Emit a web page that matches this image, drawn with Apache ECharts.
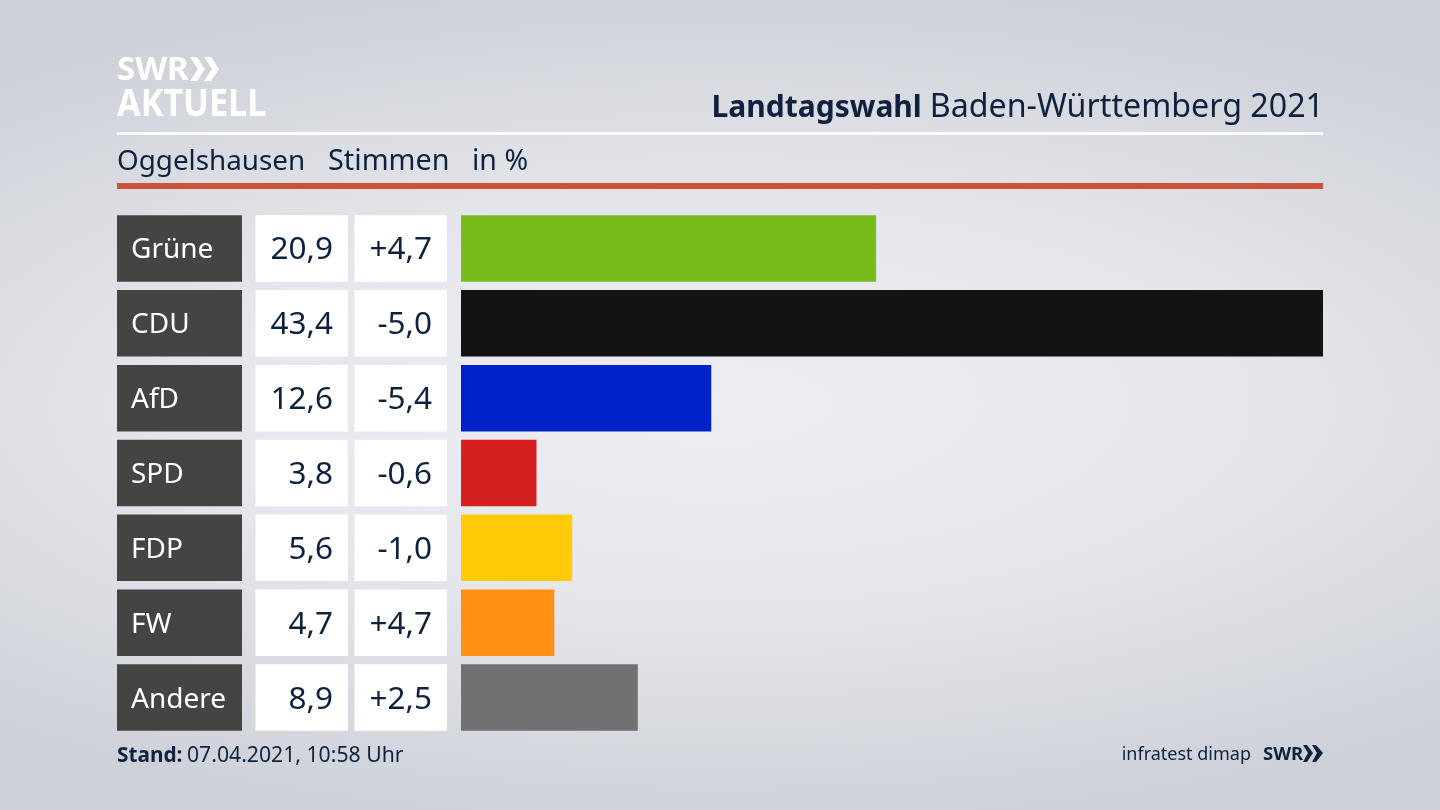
<!DOCTYPE html>
<html>
<head>
<meta charset="utf-8">
<style>
  html, body { margin: 0; padding: 0; width: 100%; height: 100%; overflow: hidden; }
  body { background: radial-gradient(ellipse 1150px 430px at 50% 50%, #eceef3 0%, #e5e7ec 45%, #cdd0d7 100%); }
  #chart { width: 1440px; height: 810px; }
</style>
<script src="https://cdn.jsdelivr.net/npm/echarts@6/dist/echarts.min.js"></script>
</head>
<body>
<div id="chart"></div>
<script>
const parties = ['Grüne', 'CDU', 'AfD', 'SPD', 'FDP', 'FW', 'Andere'];
const shares = [20.9, 43.4, 12.6, 3.8, 5.6, 4.7, 8.9];
const changes = [4.7, -5.0, -5.4, -0.6, -1.0, 4.7, 2.5];
const colors = ['#78bc1b', '#131313', '#0022c8', '#d61f1f', '#ffcb08', '#ff9014', '#707172'];

const FONT = '"Noto Sans", sans-serif';
const INK = '#0e2240';
const GRID_TOP = 211;
const GRID_HEIGHT = 524;
const ROW_H = 66.5;

const fmt = v => v.toFixed(1).replace('.', ',');
const fmtChange = v => (v > 0 ? '+' : '') + fmt(v);

// one grid per column, the first three are just filled cells with a label
const columns = [
  { left: 117, width: 125 },
  { left: 255.5, width: 92.5 },
  { left: 354.5, width: 92.5 },
  { left: 461, width: 862 },
];

function cellSeries(idx, color, texts, labelColor, size, pos, dist) {
  return {
    type: 'bar',
    xAxisIndex: idx,
    yAxisIndex: idx,
    barWidth: ROW_H,
    silent: true,
    data: texts.map(() => 1),
    itemStyle: { color: color },
    label: {
      show: true,
      position: pos,
      distance: dist,
      offset: [0, 2],
      color: labelColor,
      fontFamily: FONT,
      fontSize: size,
      formatter: p => texts[p.dataIndex],
    },
  };
}

const myChart = echarts.init(document.getElementById('chart'));

myChart.setOption({
  animation: false,
  title: {
    text: '{b|Landtagswahl} {r|Baden-Württemberg 2021}',
    right: 111,
    top: 87,
    textStyle: {
      rich: {
        b: { fontFamily: FONT, fontSize: 30, fontWeight: 'bold', color: INK },
        r: { fontFamily: FONT, fontSize: 32.2, fontWeight: 'normal', color: INK, padding: [0, 0, 0, 3] },
      },
    },
  },
  grid: columns.map(c => ({ left: c.left, width: c.width, top: GRID_TOP, height: GRID_HEIGHT })),
  xAxis: columns.map((c, i) => ({
    type: 'value',
    gridIndex: i,
    min: 0,
    max: i === 3 ? 43.4 : 1,
    show: false,
  })),
  yAxis: columns.map((c, i) => ({
    type: 'category',
    gridIndex: i,
    inverse: true,
    data: parties,
    show: false,
  })),
  series: [
    cellSeries(0, '#444442', parties, '#ffffff', 28, 'insideLeft', 14),
    cellSeries(1, '#ffffff', shares.map(fmt), INK, 31.5, 'insideRight', 15),
    cellSeries(2, '#ffffff', changes.map(fmtChange), INK, 31.5, 'insideRight', 15),
    {
      type: 'bar',
      xAxisIndex: 3,
      yAxisIndex: 3,
      barWidth: ROW_H,
      silent: true,
      data: shares.map((v, i) => ({ value: v, itemStyle: { color: colors[i] } })),
    },
  ],
  graphic: [
    // header rules
    { type: 'rect', shape: { x: 117, y: 132, width: 1206, height: 3 }, style: { fill: '#ffffff' } },
    { type: 'rect', shape: { x: 117, y: 183, width: 1206, height: 6 }, style: { fill: '#cd5338' } },
    // sub header
    { type: 'text', x: 117, y: 162, style: { text: 'Oggelshausen', font: '27.8px ' + FONT, fill: INK, textVerticalAlign: 'middle' } },
    { type: 'text', x: 328, y: 162, style: { text: 'Stimmen', font: '28.8px ' + FONT, fill: INK, textVerticalAlign: 'middle' } },
    { type: 'text', x: 472, y: 162, style: { text: 'in %', font: '28.5px ' + FONT, fill: INK, textVerticalAlign: 'middle' } },
    // logo
    { type: 'text', x: 117, y: 71, style: { text: 'SWR', font: 'bold 33px ' + FONT, fill: '#ffffff', textVerticalAlign: 'middle' } },
    { type: 'polygon', shape: { points: [[190, 57], [197, 57], [205, 69], [197, 81], [190, 81], [198, 69]] }, style: { fill: '#ffffff' } },
    { type: 'polygon', shape: { points: [[204, 57], [211, 57], [219, 69], [211, 81], [204, 81], [212, 69]] }, style: { fill: '#ffffff' } },
    { type: 'text', x: 117, y: 105, scaleX: 0.9, style: { text: 'AKTUELL', font: 'bold 38px ' + FONT, fill: '#ffffff', textVerticalAlign: 'middle' } },
    // footer
    { type: 'text', x: 117, y: 756, style: { text: 'Stand:', font: 'bold 20.8px ' + FONT, fill: INK, textVerticalAlign: 'middle' } },
    { type: 'text', x: 187, y: 756, style: { text: '07.04.2021, 10:58 Uhr', font: '21.2px ' + FONT, fill: INK, textVerticalAlign: 'middle' } },
    { type: 'text', x: 1251, y: 755, style: { text: 'infratest dimap', font: '18px ' + FONT, fill: INK, textAlign: 'right', textVerticalAlign: 'middle' } },
    { type: 'text', x: 1263, y: 755, style: { text: 'SWR', font: 'bold 18.5px ' + FONT, fill: INK, textVerticalAlign: 'middle' } },
    { type: 'polygon', shape: { points: [[1303, 745], [1307, 745], [1313, 753], [1307, 762], [1303, 762], [1308, 753]] }, style: { fill: INK } },
    { type: 'polygon', shape: { points: [[1312, 745], [1316, 745], [1323, 753], [1316, 762], [1312, 762], [1317, 753]] }, style: { fill: INK } },
  ],
});

window.addEventListener('resize', myChart.resize);
</script>
</body>
</html>
